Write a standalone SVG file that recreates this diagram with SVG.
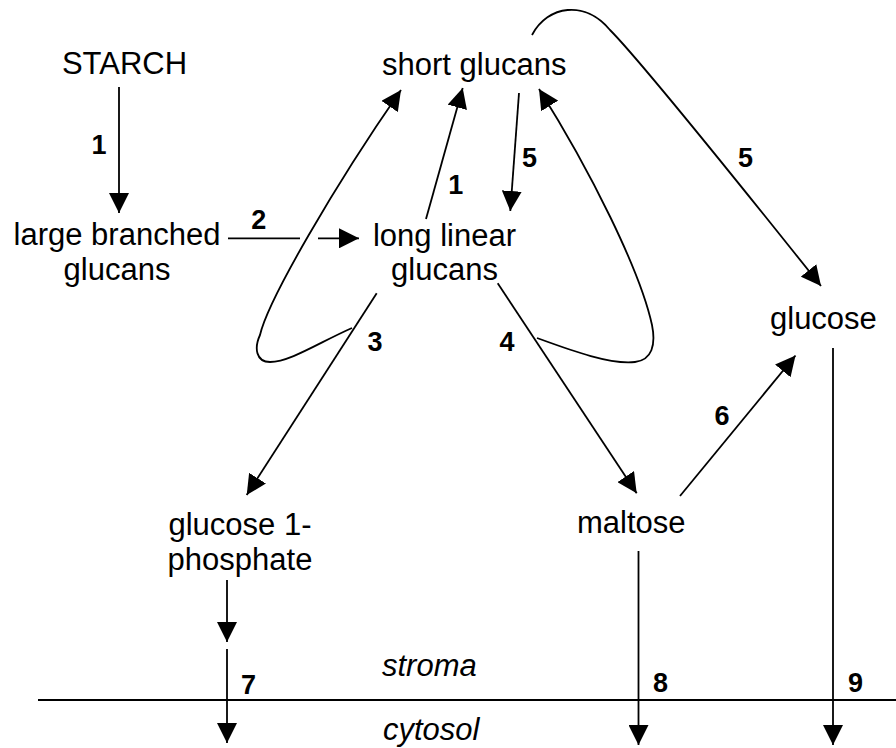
<svg xmlns="http://www.w3.org/2000/svg" width="896" height="748" viewBox="0 0 896 748">
<style>
.t{font-family:"Liberation Sans",Arial,sans-serif;font-size:31px;fill:#000}
.i{font-style:italic}
.n{font-family:"Liberation Sans",Arial,sans-serif;font-size:27px;font-weight:bold;fill:#000;text-anchor:middle}
.c{fill:none;stroke:#000;stroke-width:1.8}
.a{marker-end:url(#ah)}
</style>
<defs>
<marker id="ah" viewBox="0 0 20 20" refX="20" refY="10" markerWidth="20" markerHeight="20" markerUnits="userSpaceOnUse" orient="auto">
<path d="M0,0 L20,10 L0,20 Z" fill="#000"/>
</marker>
</defs>
<rect width="896" height="748" fill="#fff"/>
<g id="starch"><text class="t" x="124.5" y="74" text-anchor="middle">STARCH</text></g>
<g id="short-glucans"><text class="t" x="382" y="75">short glucans</text></g>
<g id="large-branched-glucans"><text class="t" x="117" y="245" text-anchor="middle">large branched</text><text class="t" x="117" y="279.5" text-anchor="middle">glucans</text></g>
<g id="long-linear-glucans"><text class="t" x="444.5" y="245.5" text-anchor="middle">long linear</text><text class="t" x="444.5" y="280" text-anchor="middle">glucans</text></g>
<g id="glucose"><text class="t" x="770" y="329">glucose</text></g>
<g id="glucose-1-phosphate"><text class="t" x="240" y="535" text-anchor="middle">glucose 1-</text><text class="t" x="240" y="570" text-anchor="middle">phosphate</text></g>
<g id="maltose"><text class="t" x="577" y="533">maltose</text></g>
<g id="compartments">
<line x1="38" y1="700" x2="896" y2="700" stroke="#000" stroke-width="2"/>
<text class="t i" x="382" y="676">stroma</text>
<text class="t i" x="383" y="740">cytosol</text>
</g>
<g id="connectors">
<line class="c a" x1="119" y1="87" x2="119" y2="213"/>
<line class="c" x1="228" y1="238.3" x2="300" y2="238.3"/>
<line class="c a" x1="318" y1="238.3" x2="359" y2="238.3"/>
<path class="c a" d="M352,328 C320,342 290,362 270,362 C256,362 254,348 260,335 C268,300 335,185 401,90"/>
<path class="c a" d="M537,338 C570,350 610,365 635,362 C652,360 656,345 652,325 C640,270 590,170 539,89"/>
<line class="c a" x1="426" y1="219" x2="462.7" y2="88"/>
<line class="c a" x1="519" y1="93" x2="510.3" y2="211"/>
<path class="c a" d="M532,35 C548,5 585,0 610,30 C645,65 760,210 821,286"/>
<line class="c a" x1="376.7" y1="293.3" x2="246.7" y2="495"/>
<line class="c a" x1="497.7" y1="283.3" x2="636.7" y2="493.3"/>
<line class="c a" x1="680" y1="496" x2="795.5" y2="355.5"/>
<line class="c a" x1="227" y1="580" x2="227" y2="642"/>
<line class="c a" x1="227" y1="649" x2="227" y2="743"/>
<line class="c a" x1="638.5" y1="551" x2="638.5" y2="745"/>
<line class="c a" x1="833" y1="348" x2="833" y2="745"/>
<text class="n" x="99" y="154">1</text>
<text class="n" x="258.7" y="228.5">2</text>
<text class="n" x="455.7" y="194">1</text>
<text class="n" x="529.5" y="166.5">5</text>
<text class="n" x="745.5" y="166.5">5</text>
<text class="n" x="375" y="351">3</text>
<text class="n" x="507" y="351">4</text>
<text class="n" x="722" y="425">6</text>
<text class="n" x="248.5" y="694">7</text>
<text class="n" x="660.5" y="692">8</text>
<text class="n" x="855.5" y="692">9</text>
</g>
</svg>
